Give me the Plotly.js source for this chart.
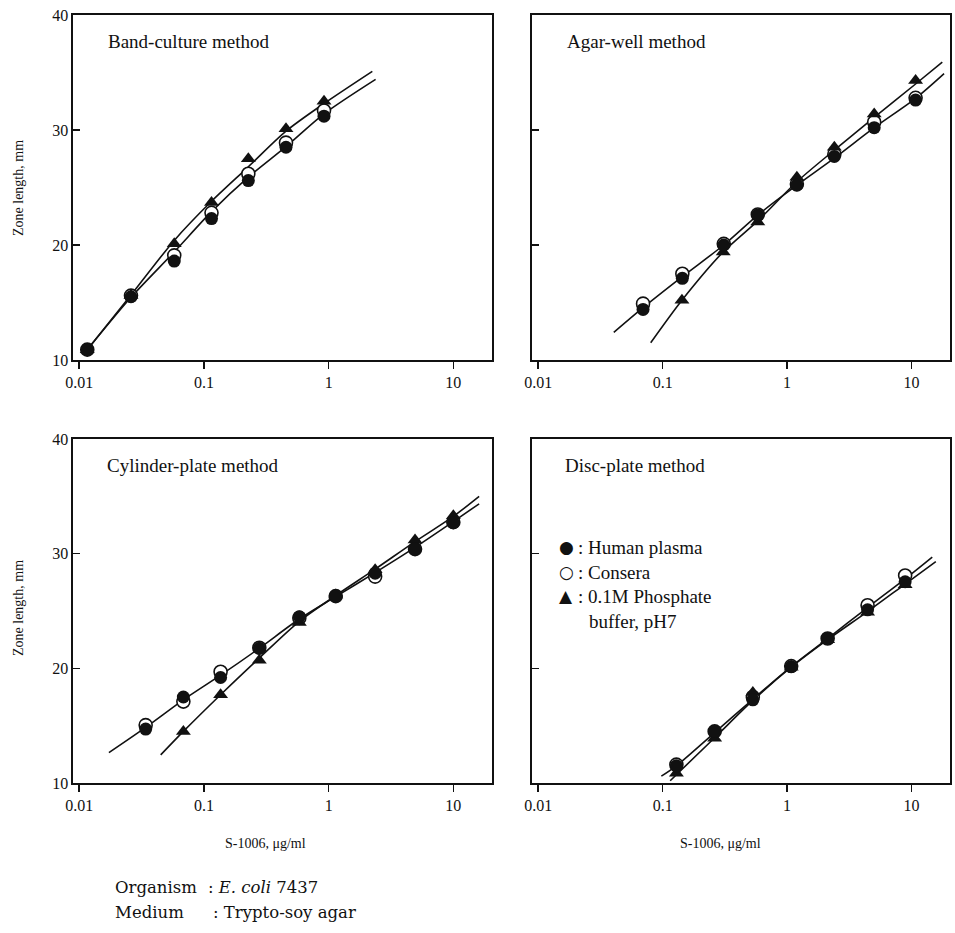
<!DOCTYPE html>
<html>
<head>
<meta charset="utf-8">
<script src="https://cdn.plot.ly/plotly-3.0.1.min.js"></script>
<style>html,body{margin:0;padding:0;background:#fff;}</style>
</head>
<body>
<div id="chart" style="width:955px;height:933px;"></div>
<script>
// ---------- tick labels ----------
const xTickVals = [0.01, 0.1, 1, 10];
const xTickText = ['0.01', '0.1', '1', '10'];
const yTickVals = [10, 20, 30, 40];
const yTickText = ['10', '20', '30', '40'];

// ---------- panel titles ----------
const panelTitles = ['Band-culture method', 'Agar-well method', 'Cylinder-plate method', 'Disc-plate method'];
const seriesNames = ['Human plasma', 'Consera', '0.1M Phosphate buffer, pH7'];

// ---------- Band-culture method ----------
const bandX = [0.0116, 0.026, 0.0578, 0.115, 0.227, 0.455, 0.918];
const bandPlasma = [10.9, 15.5, 18.6, 22.3, 25.6, 28.5, 31.2];
const bandConsera = [10.9, 15.6, 19.1, 22.8, 26.2, 28.9, 31.7];
const bandPhosphate = [10.9, 15.6, 20.1, 23.7, 27.5, 30.1, 32.5];
const bandFitAX = [0.0116, 0.026, 0.0578, 0.115, 0.227, 0.455, 0.918, 2.24];
const bandFitAY = [10.9, 15.65, 20.4, 23.8, 26.8, 29.9, 32.3, 35.1];
const bandFitBX = [0.0116, 0.026, 0.0578, 0.115, 0.227, 0.455, 0.918, 2.38];
const bandFitBY = [10.9, 15.45, 19.4, 22.9, 25.9, 28.55, 31.4, 34.4];

// ---------- Agar-well method ----------
const agarX = [0.0696, 0.144, 0.31, 0.582, 1.2, 2.4, 5.02, 10.8];
const agarPlasma = [14.4, 17.1, 20.0, 22.6, 25.2, 27.7, 30.2, 32.6];
const agarConsera = [14.9, 17.5, 20.1, 22.65, 25.3, 27.9, 30.7, 32.8];
const agarPhosX = [0.143, 0.307, 0.582, 1.2, 2.4, 5.02, 10.8];
const agarPhosphate = [15.2, 19.4, 22.0, 25.9, 28.5, 31.4, 34.3];
const agarFitAX = [0.0405, 0.0696, 0.144, 0.31, 0.582, 1.2, 2.4, 5.02, 10.8, 18.3];
const agarFitAY = [12.4, 14.55, 17.25, 20.0, 22.6, 25.2, 27.55, 30.2, 32.75, 34.9];
const agarFitBX = [0.0802, 0.143, 0.307, 0.582, 1.2, 2.4, 5.02, 10.8, 17.7];
const agarFitBY = [11.5, 15.2, 19.4, 22.1, 25.5, 28.25, 31.1, 34.0, 35.9];

// ---------- Cylinder-plate method ----------
const cylX = [0.0341, 0.0684, 0.136, 0.278, 0.582, 1.14, 2.36, 4.93, 10.0];
const cylPlasma = [14.7, 17.5, 19.2, 21.75, 24.5, 26.3, 28.3, 30.4, 32.7];
const cylConsera = [15.05, 17.1, 19.7, 21.8, 24.4, 26.3, 28.0, 30.4, 32.75];
const cylPhosX = [0.0684, 0.136, 0.278, 0.582, 1.14, 2.36, 4.93, 10.0];
const cylPhosphate = [14.5, 17.7, 20.7, 24.0, 26.4, 28.6, 31.2, 33.3];
const cylFitAX = [0.0173, 0.0341, 0.0684, 0.136, 0.278, 0.582, 1.14, 2.36, 4.93, 10.0, 16.1];
const cylFitAY = [12.65, 14.85, 17.25, 19.4, 21.75, 24.3, 26.25, 28.35, 30.55, 32.8, 34.35];
const cylFitBX = [0.045, 0.0684, 0.136, 0.278, 0.582, 1.14, 2.36, 4.93, 10.0, 16.1];
const cylFitBY = [12.45, 14.5, 17.7, 20.9, 24.1, 26.35, 28.65, 31.05, 33.25, 35.0];

// ---------- Disc-plate method ----------
const discX = [0.129, 0.262, 0.531, 1.08, 2.12, 4.44, 8.9];
const discPlasma = [11.5, 14.5, 17.25, 20.15, 22.6, 25.1, 27.55];
const discConsera = [11.6, 14.5, 17.5, 20.2, 22.6, 25.5, 28.1];
const discPhosphate = [10.85, 13.9, 17.9, 20.1, 22.5, 24.9, 27.3];
const discFitAX = [0.0977, 0.129, 0.262, 0.531, 1.08, 2.12, 4.44, 8.9, 14.7];
const discFitAY = [10.6, 11.5, 14.4, 17.3, 20.15, 22.6, 25.3, 27.8, 29.7];
const discFitBX = [0.115, 0.262, 0.531, 1.08, 2.12, 4.44, 8.9, 15.7];
const discFitBY = [10.2, 13.95, 17.2, 20.1, 22.5, 24.95, 27.35, 29.3];

// ---------- build traces ----------
const panels = [
  {xa: 'x', ya: 'y', fits: [[bandFitAX, bandFitAY], [bandFitBX, bandFitBY]],
   open: [bandX, bandConsera], tri: [bandX, bandPhosphate], fill: [bandX, bandPlasma]},
  {xa: 'x2', ya: 'y2', fits: [[agarFitAX, agarFitAY], [agarFitBX, agarFitBY]],
   open: [agarX, agarConsera], tri: [agarPhosX, agarPhosphate], fill: [agarX, agarPlasma]},
  {xa: 'x3', ya: 'y3', fits: [[cylFitAX, cylFitAY], [cylFitBX, cylFitBY]],
   open: [cylX, cylConsera], tri: [cylPhosX, cylPhosphate], fill: [cylX, cylPlasma]},
  {xa: 'x4', ya: 'y4', fits: [[discFitAX, discFitAY], [discFitBX, discFitBY]],
   open: [discX, discConsera], tri: [discX, discPhosphate], fill: [discX, discPlasma]}
];

const traces = [];
panels.forEach(p => {
  p.fits.forEach(f => traces.push({
    x: f[0], y: f[1], xaxis: p.xa, yaxis: p.ya, mode: 'lines', type: 'scatter',
    line: {color: '#111', width: 1.6, shape: 'spline', smoothing: 0.8}, hoverinfo: 'skip'
  }));
  traces.push({x: p.open[0], y: p.open[1], xaxis: p.xa, yaxis: p.ya, mode: 'markers', type: 'scatter',
    name: seriesNames[1], marker: {symbol: 'circle', size: 13, color: '#fff', line: {color: '#111', width: 1.6}}});
  traces.push({x: p.tri[0], y: p.tri[1], xaxis: p.xa, yaxis: p.ya, mode: 'markers', type: 'scatter',
    name: seriesNames[2], marker: {symbol: 'triangle-up', size: 13, color: '#111', line: {width: 0}}});
  traces.push({x: p.fill[0], y: p.fill[1], xaxis: p.xa, yaxis: p.ya, mode: 'markers', type: 'scatter',
    name: seriesNames[0], marker: {symbol: 'circle', size: 13, color: '#111', line: {width: 0}}});
});

// ---------- layout ----------
const W = 955, H = 933;
const px = v => v / W;
const py = v => 1 - v / H;
const FONT = '"Liberation Serif", "Times New Roman", serif';

function xAxis(domain, anchor) {
  return {
    type: 'log', range: [-2.05, 1.31], domain: domain, anchor: anchor,
    tickvals: xTickVals, ticktext: xTickText, ticks: 'outside', ticklen: 7, tickwidth: 1.5, tickcolor: '#111',
    showline: true, linecolor: '#111', linewidth: 1.6, mirror: true, showgrid: false, zeroline: false,
    tickfont: {family: FONT, size: 16, color: '#111'}
  };
}
function yAxis(domain, anchor, labels) {
  return {
    range: [10, 40], domain: domain, anchor: anchor,
    tickvals: yTickVals, ticktext: yTickText, showticklabels: labels,
    ticks: 'inside', ticklen: 7, tickwidth: 1.5, tickcolor: '#111',
    showline: true, linecolor: '#111', linewidth: 1.6, mirror: true, showgrid: false, zeroline: false,
    tickfont: {family: FONT, size: 16, color: '#111'}
  };
}

const xdL = [px(73), px(492)], xdR = [px(532), px(950)];
const ydT = [py(360), py(15)], ydB = [py(783), py(439)];

const ann = [];
const panelPos = [[106, 42], [565, 42], [105, 465], [563, 465]];
panelTitles.forEach((t, i) => ann.push({
  text: t, xref: 'paper', yref: 'paper', x: px(panelPos[i][0]), y: py(panelPos[i][1]),
  xanchor: 'left', yanchor: 'middle', showarrow: false, font: {family: FONT, size: 19, color: '#111'}
}));
// y titles
[188, 608].forEach(v => ann.push({
  text: 'Zone length, mm', xref: 'paper', yref: 'paper', x: px(18), y: py(v), textangle: -90,
  xanchor: 'center', yanchor: 'middle', showarrow: false, font: {family: FONT, size: 14, color: '#111'}
}));
// x titles
[265, 720].forEach(v => ann.push({
  text: 'S-1006, μg/ml', xref: 'paper', yref: 'paper', x: px(v), y: py(843),
  xanchor: 'center', yanchor: 'middle', showarrow: false, font: {family: FONT, size: 14, color: '#111'}
}));
// legend (text)
const legRows = [['●', ': Human plasma', 547], ['○', ': Consera', 572], ['▲', ': 0.1M Phosphate', 596]];
legRows.forEach(r => {
  ann.push({text: r[0], xref: 'paper', yref: 'paper', x: px(566), y: py(r[2]), xanchor: 'center', yanchor: 'middle',
    showarrow: false, font: {family: '"DejaVu Sans", sans-serif', size: 17, color: '#111'}});
  ann.push({text: r[1], xref: 'paper', yref: 'paper', x: px(576), y: py(r[2]), xanchor: 'left', yanchor: 'middle',
    showarrow: false, font: {family: FONT, size: 19, color: '#111'}});
});
ann.push({text: 'buffer, pH7', xref: 'paper', yref: 'paper', x: px(587), y: py(621), xanchor: 'left', yanchor: 'middle',
  showarrow: false, font: {family: FONT, size: 19, color: '#111'}});
// footnote
const FOOT = '"DejaVu Serif", "Liberation Serif", serif';
ann.push({text: 'Organism', xref: 'paper', yref: 'paper', x: px(113), y: py(887), xanchor: 'left', yanchor: 'middle',
  showarrow: false, font: {family: FOOT, size: 16.5, color: '#111'}});
ann.push({text: ': <i>E. coli</i> 7437', xref: 'paper', yref: 'paper', x: px(206), y: py(887), xanchor: 'left', yanchor: 'middle',
  showarrow: false, font: {family: FOOT, size: 16.5, color: '#111'}});
ann.push({text: 'Medium', xref: 'paper', yref: 'paper', x: px(113), y: py(912), xanchor: 'left', yanchor: 'middle',
  showarrow: false, font: {family: FOOT, size: 16.5, color: '#111'}});
ann.push({text: ': Trypto-soy agar', xref: 'paper', yref: 'paper', x: px(211), y: py(912), xanchor: 'left', yanchor: 'middle',
  showarrow: false, font: {family: FOOT, size: 16.5, color: '#111'}});

const layout = {
  width: W, height: H, margin: {l: 0, r: 0, t: 0, b: 0},
  paper_bgcolor: '#fff', plot_bgcolor: '#fff', showlegend: false,
  xaxis: xAxis(xdL, 'y'), yaxis: yAxis(ydT, 'x', true),
  xaxis2: xAxis(xdR, 'y2'), yaxis2: yAxis(ydT, 'x2', false),
  xaxis3: xAxis(xdL, 'y3'), yaxis3: yAxis(ydB, 'x3', true),
  xaxis4: xAxis(xdR, 'y4'), yaxis4: yAxis(ydB, 'x4', false),
  annotations: ann
};

Plotly.newPlot('chart', traces, layout, {displayModeBar: false, staticPlot: true});
</script>
</body>
</html>
